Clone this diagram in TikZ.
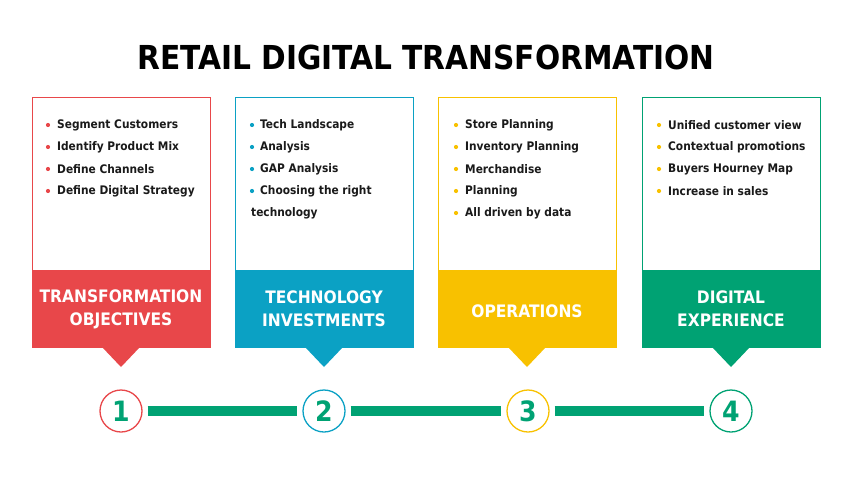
\documentclass[tikz,border=0pt]{standalone}
\usepackage{fontspec}
\setmainfont{DejaVu Sans Condensed}
\usetikzlibrary{calc}
\definecolor{cred}{HTML}{E8474A}
\definecolor{cblue}{HTML}{0BA1C4}
\definecolor{cyel}{HTML}{F8C100}
\definecolor{cgreen}{HTML}{00A273}
\definecolor{ctext}{HTML}{1A1A1A}
\tikzset{
  card/.style={draw=#1, line width=1pt, fill=white},
  bandtext/.style={text=white, font=\fontsize{17.2}{23}\selectfont\bfseries, align=center},
  item/.style={anchor=west, text=ctext, font=\fontsize{11.8}{13}\selectfont\bfseries, inner sep=0pt},
  dot/.style={circle, fill=#1, inner sep=0pt, minimum size=4.2pt},
  numc/.style={circle, draw=#1, line width=1.3pt, minimum size=42pt, inner sep=0pt, text=cgreen, font=\fontsize{28}{28}\selectfont\bfseries},
  link/.style={draw=cgreen, line width=10pt},
}
\begin{document}
\begin{tikzpicture}[x=1pt,y=-1pt]
\useasboundingbox (0,0) rectangle (851,479);
\node[font=\fontsize{33}{36}\selectfont\bfseries, text=black] (title) at (426,57) {RETAIL DIGITAL TRANSFORMATION};
% cards
\foreach \x/\c/\n in {32/cred/a,235/cblue/b,438/cyel/c,642/cgreen/d}{
  \draw[card=\c] (\x,97) rectangle ++(178,173);
  \fill[\c] (\x-0.5,270) rectangle ++(179,77.5);
  \fill[\c] (\x+70,347) -- (\x+108,347) -- (\x+89,367) -- cycle;
  \coordinate (\n top) at (\x,97);
}
\node[bandtext] (ha) at (121,309) {TRANSFORMATION\\OBJECTIVES};
\node[bandtext] (hb) at (324,309) {TECHNOLOGY\\INVESTMENTS};
\node[bandtext] (hc) at (527,311) {OPERATIONS};
\node[bandtext] (hd) at (731,309) {DIGITAL\\EXPERIENCE};
% bullets
\foreach \t [count=\i] in {Segment Customers,Identify Product Mix,Define Channels,Define Digital Strategy}{
  \node[dot=cred] (da\i) at (48,125+22*\i-22) {};
  \node[item] (ta\i) at (57,125+22*\i-22) {\t};
}
\foreach \t [count=\i] in {Tech Landscape,Analysis,GAP Analysis,Choosing the right}{
  \node[dot=cblue] (db\i) at (252,125+22*\i-22) {};
  \node[item] (tb\i) at (260,125+22*\i-22) {\t};
}
\node[item] (tb5) at (251,213) {technology};
\foreach \t [count=\i] in {Store Planning,Inventory Planning,Merchandise,Planning,All driven by data}{
  \node[dot=cyel] (dc\i) at (456,125+22*\i-22) {};
  \node[item] (tc\i) at (465,125+22*\i-22) {\t};
}
\foreach \t [count=\i] in {Unified customer view,Contextual promotions,Buyers Hourney Map,Increase in sales}{
  \node[dot=cyel] (dd\i) at (659,125+22*\i-22) {};
  \node[item] (td\i) at (668,125+22*\i-22) {\t};
}
% timeline
\node[numc=cred] (n1) at (121,411) {1};
\node[numc=cblue] (n2) at (324,411) {2};
\node[numc=cyel] (n3) at (528,411) {3};
\node[numc=cgreen] (n4) at (731,411) {4};
\draw[link] ([xshift=5pt]n1.east) -- ([xshift=-5pt]n2.west);
\draw[link] ([xshift=5pt]n2.east) -- ([xshift=-5pt]n3.west);
\draw[link] ([xshift=5pt]n3.east) -- ([xshift=-5pt]n4.west);
\end{tikzpicture}
\end{document}
